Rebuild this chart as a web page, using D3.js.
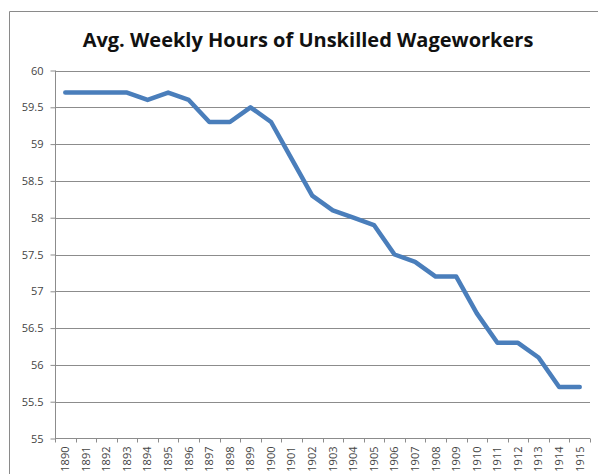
<!DOCTYPE html>
<html>
<head>
<meta charset="utf-8">
<script src="https://cdn.jsdelivr.net/npm/d3@7"></script>
<style>
  body { margin: 0; background: #fff; }
  svg { display: block; }
</style>
</head>
<body>
<div id="container"></div>
<script>
const years = ['1890', '1891', '1892', '1893', '1894', '1895', '1896', '1897', '1898', '1899',
    '1900', '1901', '1902', '1903', '1904', '1905', '1906', '1907', '1908', '1909',
    '1910', '1911', '1912', '1913', '1914', '1915'];
const hours = [59.7, 59.7, 59.7, 59.7, 59.6, 59.7, 59.6, 59.3, 59.3, 59.5,
    59.3, 58.8, 58.3, 58.1, 58.0, 57.9, 57.5, 57.4, 57.2, 57.2,
    56.7, 56.3, 56.3, 56.1, 55.7, 55.7];
const yTicks = [55, 55.5, 56, 56.5, 57, 57.5, 58, 58.5, 59, 59.5, 60];
const chartTitle = 'Avg. Weekly Hours of Unskilled Wageworkers';

const width = 598, height = 474;
const plot = { left: 55, right: 590, top: 70.5, bottom: 438.5 };
const gridColor = '#8c8c8c';
const font = '"Open Sans", sans-serif';

let viz = d3.select('#container')
    .append('svg')
    .attr('width', width)
    .attr('height', height);

// chart frame (only left and top edges are inside the picture)
viz.append('path')
    .attr('d', `M9.5,${height} V11.5 H${width}`)
    .attr('fill', 'none')
    .attr('stroke', '#8a8a8a')
    .attr('stroke-width', 1);

let title = viz.append('text')
    .text(chartTitle)
    .attr('x', 308)
    .attr('y', 47)
    .attr('text-anchor', 'middle')
    .attr('font-family', font)
    .attr('font-weight', 'bold')
    .attr('font-size', 20)
    .attr('fill', '#111');
// squeeze to the width the title takes in the picture
if (title.node().getComputedTextLength() > 456) {
    title.attr('textLength', 456).attr('lengthAdjust', 'spacingAndGlyphs');
}

let x = d3.scaleBand()
    .domain(years)
    .range([plot.left, plot.right]);

let y = d3.scaleLinear()
    .domain([55, 60])
    .range([plot.bottom, plot.top]);

// horizontal gridlines
viz.append('g')
    .selectAll('line')
    .data(yTicks.slice(1))
    .enter()
    .append('line')
    .attr('x1', plot.left)
    .attr('x2', plot.right)
    .attr('y1', d => Math.round(y(d)) + 0.5)
    .attr('y2', d => Math.round(y(d)) + 0.5)
    .attr('stroke', gridColor)
    .attr('stroke-width', 1);

// y axis
let yAxis = viz.append('g')
    .attr('transform', `translate(${plot.left + 0.5},0)`)
    .call(d3.axisLeft(y)
        .tickValues(yTicks)
        .tickSize(5)
        .tickPadding(7)
        .tickFormat(d => d));
yAxis.selectAll('path, line').attr('stroke', gridColor);
yAxis.select('.domain').attr('d', `M0,${plot.top} V${plot.bottom}`);
yAxis.selectAll('text')
    .attr('font-family', font)
    .attr('font-size', 11)
    .attr('fill', '#444');

// x axis: line and ticks at category boundaries
let xAxis = viz.append('g');
xAxis.append('line')
    .attr('x1', plot.left)
    .attr('x2', plot.right)
    .attr('y1', plot.bottom)
    .attr('y2', plot.bottom)
    .attr('stroke', gridColor);

let boundaries = years.map(d => x(d)).concat([x.range()[1]]);
xAxis.selectAll('.xtick')
    .data(boundaries)
    .enter()
    .append('line')
    .attr('class', 'xtick')
    .attr('x1', d => Math.round(d) + 0.5)
    .attr('x2', d => Math.round(d) + 0.5)
    .attr('y1', plot.bottom)
    .attr('y2', plot.bottom + 4)
    .attr('stroke', gridColor);

xAxis.selectAll('.xlabel')
    .data(years)
    .enter()
    .append('text')
    .attr('class', 'xlabel')
    .text(d => d)
    .attr('transform', d => `translate(${x(d) + x.bandwidth() / 2},${plot.bottom + 8}) rotate(-90)`)
    .attr('dy', '0.35em')
    .attr('text-anchor', 'end')
    .attr('font-family', font)
    .attr('font-size', 11)
    .attr('fill', '#444');

// the series line
let line = d3.line()
    .x((d, i) => x(years[i]) + x.bandwidth() / 2)
    .y(d => y(d));

viz.append('path')
    .datum(hours)
    .attr('d', line)
    .attr('fill', 'none')
    .attr('stroke', '#4a7ebb')
    .attr('stroke-width', 4.5)
    .attr('stroke-linejoin', 'round')
    .attr('stroke-linecap', 'round');
</script>
</body>
</html>
